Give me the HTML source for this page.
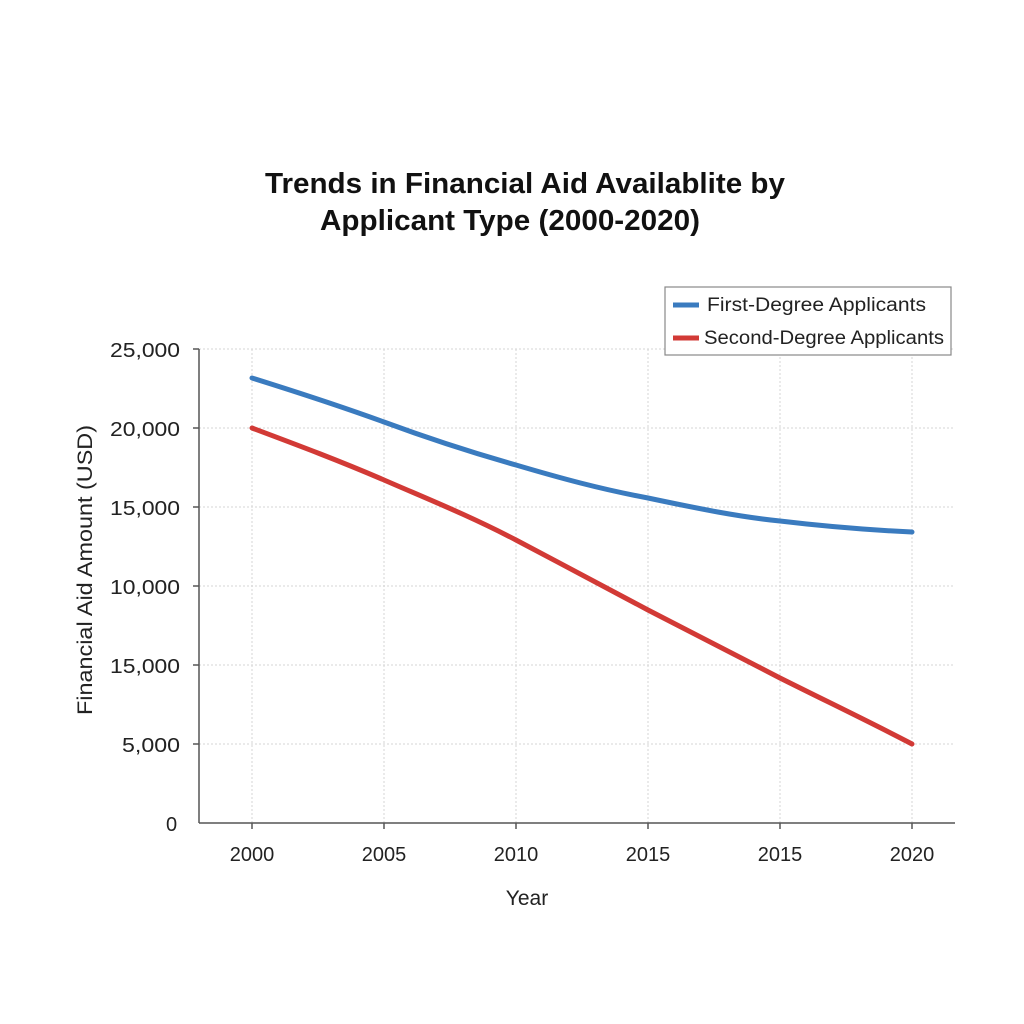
<!DOCTYPE html>
<html><head><meta charset="utf-8"><style>
body{margin:0;background:#fff;}
svg{display:block;font-family:"Liberation Sans","DejaVu Sans",sans-serif;}
</style></head><body>
<svg width="1024" height="1024" viewBox="0 0 1024 1024">
<rect width="1024" height="1024" fill="#fff"/>
<text x="265" y="193" font-size="29" font-weight="bold" fill="#111" textLength="520" lengthAdjust="spacingAndGlyphs">Trends in Financial Aid Availablite by</text>
<text x="320" y="230" font-size="29" font-weight="bold" fill="#111" textLength="380" lengthAdjust="spacingAndGlyphs">Applicant Type (2000-2020)</text>
<g stroke="#d6d6d6" stroke-width="1" stroke-dasharray="2,2">
<line x1="199" y1="349" x2="955" y2="349"/><line x1="199" y1="428" x2="955" y2="428"/>
<line x1="199" y1="507" x2="955" y2="507"/><line x1="199" y1="586" x2="955" y2="586"/>
<line x1="199" y1="665" x2="955" y2="665"/><line x1="199" y1="744" x2="955" y2="744"/>
<line x1="252" y1="349" x2="252" y2="823"/><line x1="384" y1="349" x2="384" y2="823"/>
<line x1="516" y1="349" x2="516" y2="823"/><line x1="648" y1="349" x2="648" y2="823"/>
<line x1="780" y1="349" x2="780" y2="823"/><line x1="912" y1="349" x2="912" y2="823"/>
</g>
<g stroke="#555" stroke-width="1.5">
<line x1="199" y1="349" x2="199" y2="823"/><line x1="199" y1="823" x2="955" y2="823"/>
<line x1="193" y1="349" x2="199" y2="349"/><line x1="193" y1="428" x2="199" y2="428"/><line x1="193" y1="507" x2="199" y2="507"/><line x1="193" y1="586" x2="199" y2="586"/><line x1="193" y1="665" x2="199" y2="665"/><line x1="193" y1="744" x2="199" y2="744"/>
<line x1="252" y1="823" x2="252" y2="829"/><line x1="384" y1="823" x2="384" y2="829"/><line x1="516" y1="823" x2="516" y2="829"/><line x1="648" y1="823" x2="648" y2="829"/><line x1="780" y1="823" x2="780" y2="829"/><line x1="912" y1="823" x2="912" y2="829"/>
</g>
<g font-size="20" fill="#222">
<text x="110" y="357" textLength="70" lengthAdjust="spacingAndGlyphs">25,000</text>
<text x="110" y="436" textLength="70" lengthAdjust="spacingAndGlyphs">20,000</text>
<text x="110" y="515" textLength="70" lengthAdjust="spacingAndGlyphs">15,000</text>
<text x="110" y="594" textLength="70" lengthAdjust="spacingAndGlyphs">10,000</text>
<text x="110" y="673" textLength="70" lengthAdjust="spacingAndGlyphs">15,000</text>
<text x="122" y="752" textLength="58" lengthAdjust="spacingAndGlyphs">5,000</text>
<text x="166" y="831">0</text>
</g>
<g font-size="20" fill="#222" text-anchor="middle">
<text x="252" y="861">2000</text><text x="384" y="861">2005</text><text x="516" y="861">2010</text>
<text x="648" y="861">2015</text><text x="780" y="861">2015</text><text x="912" y="861">2020</text>
<text x="527" y="905" font-size="21">Year</text>
</g>
<text transform="translate(92,570) rotate(-90)" font-size="21" fill="#222" x="-145" textLength="290" lengthAdjust="spacingAndGlyphs">Financial Aid Amount (USD)</text>
<path d="M252,378 C300,393 340,406 384,422 C430,439 470,452 516,465 C560,478 600,489 648,498 C700,509 740,517 780,521 C830,527 870,530 912,532" fill="none" stroke="#3a7bbf" stroke-width="5" stroke-linecap="round"/>
<path d="M252,428 C300,446 340,461 384,480 C430,500 470,516 516,540 C560,563 600,585 648,610 C700,637 740,657 780,678 C830,703 870,722 912,744" fill="none" stroke="#d23a36" stroke-width="5" stroke-linecap="round"/>
<rect x="665" y="287" width="286" height="68" fill="#fff" stroke="#888" stroke-width="1.2"/>
<line x1="673" y1="305" x2="699" y2="305" stroke="#3a7bbf" stroke-width="5"/>
<line x1="673" y1="338" x2="699" y2="338" stroke="#d23a36" stroke-width="5"/>
<text x="707" y="311" font-size="19" fill="#222" textLength="219" lengthAdjust="spacingAndGlyphs">First-Degree Applicants</text>
<text x="704" y="344" font-size="19" fill="#222" textLength="240" lengthAdjust="spacingAndGlyphs">Second-Degree Applicants</text>
</svg>
</body></html>
